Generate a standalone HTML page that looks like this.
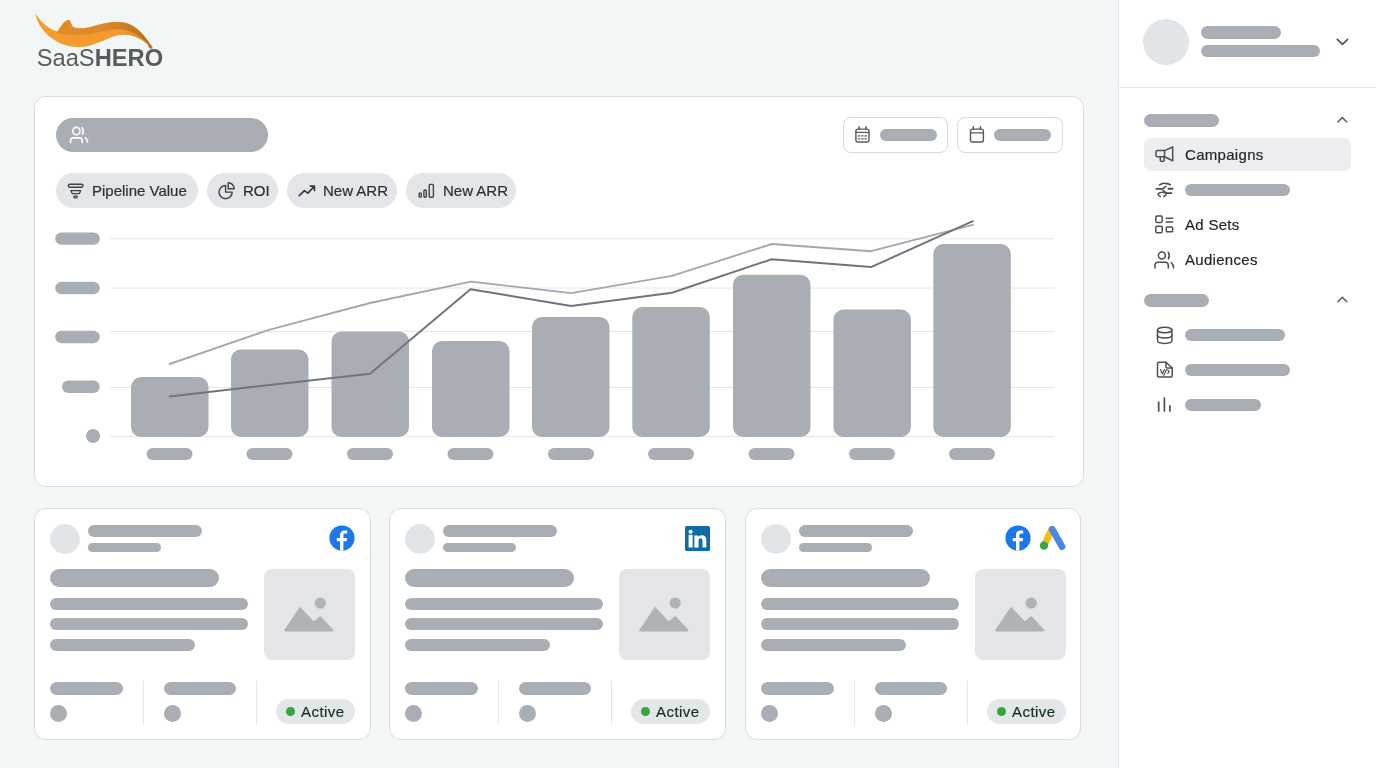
<!DOCTYPE html>
<html><head><meta charset="utf-8">
<style>
*{box-sizing:border-box;margin:0;padding:0}
html,body{width:1376px;height:768px;overflow:hidden}
body{background:#f2f6f7;font-family:"Liberation Sans",sans-serif;position:relative;color:#2b3036}
.a{position:absolute}
.sk{position:absolute;background:#a9aeb4;border-radius:999px}
.card{position:absolute;background:#fff;border:1px solid #d9dcdf;border-radius:12px}
.chip{position:absolute;top:173.3px;height:34.8px;background:#e3e5e8;border-radius:17.4px;font-size:15px;line-height:34.8px;color:#2b3036;white-space:nowrap}
.chip svg{position:absolute;top:9px}
.chip span{position:absolute;top:0.6px;will-change:transform;-webkit-text-stroke:0.2px #2b3036}
.lt{background:#e2e5e8}
#side{position:absolute;left:1118px;top:0;width:258px;height:768px;background:#fff;border-left:1px solid #e3e7eb}
.nav{position:absolute;will-change:transform;-webkit-text-stroke:0.2px #23282d;font-size:15px;letter-spacing:0.3px;color:#23282d;line-height:20px}
</style></head><body>

<!-- logo -->
<svg class="a" style="left:0;top:0;will-change:transform" width="180" height="80" viewBox="0 0 180 80">
  <defs>
   <linearGradient id="og" x1="0" y1="0" x2="1" y2="0"><stop offset="0" stop-color="#f39c2f"/><stop offset="0.7" stop-color="#f29a2c"/><stop offset="1" stop-color="#dc8420"/></linearGradient>
   <linearGradient id="dg" x1="0" y1="0" x2="1" y2="0"><stop offset="0" stop-color="#e08c27"/><stop offset="0.5" stop-color="#d98a2a"/><stop offset="1" stop-color="#b56c20"/></linearGradient>
  </defs>
  <path d="M35.1 13.1 C37 24 45 35 56 41 C66 47 78 48.5 90 45.5 C100 43 112 35.5 122 34.8 C134 34 144 40 152.5 48.8 L151 45.5 C145 36 137 26 126 23 C116 20.5 104 23 94 26 C86 28.5 78 29.5 72.7 26.8 C71.5 24.5 70.5 22 69.5 20 C65.5 19.5 61.5 24.5 57.5 31.5 C50 30 41 23 35.1 13.1 Z" fill="url(#og)"/>
  <path d="M56.5 33 C61 27 64 20.5 68.5 20 C70.5 20.5 70.8 24 72.7 26.8 C78 29.5 86 28.5 94 26 C104 23 116 20.5 126 23 C137 26 145 36 151.5 46.5 L150 46.5 C144 39 136 32 124 29.5 C112 28 100 32.5 90 34 C78 35.5 66 35 56.5 33 Z" fill="url(#dg)"/>
  <ellipse cx="150.3" cy="46.6" rx="2.6" ry="1.6" transform="rotate(45 150.3 46.6)" fill="#c0721f"/>
  <text x="36.7" y="65.6" font-family="Liberation Sans" font-size="23.7" fill="#5a5b5d">SaaS<tspan font-weight="bold">HERO</tspan></text>
</svg>

<!-- main chart card -->
<div class="card" style="left:34px;top:96px;width:1050px;height:391px"></div>
<div class="sk" style="left:55.5px;top:117.5px;width:212.5px;height:34.8px"></div>

<div class="chip" style="left:56px;width:142px"><span style="left:36px">Pipeline Value</span></div>
<div class="chip" style="left:207px;width:71px"><span style="left:36px">ROI</span></div>
<div class="chip" style="left:287px;width:110px"><span style="left:36px">New ARR</span></div>
<div class="chip" style="left:406px;width:110px"><span style="left:36.5px">New ARR</span></div>

<!-- date buttons -->
<div class="a" style="left:842.5px;top:117px;width:105.5px;height:35.5px;border:1px solid #d6d9dd;border-radius:8px;background:#fff"></div>
<div class="sk" style="left:879.5px;top:128.7px;width:57.3px;height:12.5px"></div>
<div class="a" style="left:957px;top:117px;width:105.5px;height:35.5px;border:1px solid #d6d9dd;border-radius:8px;background:#fff"></div>
<div class="sk" style="left:993.7px;top:128.7px;width:57.8px;height:12.5px"></div>

<!-- chart + icons overlay -->
<svg class="a" style="left:0;top:0" width="1100" height="480" viewBox="0 0 1100 480">
  <g fill="none" stroke="#fff" stroke-width="1.6" stroke-linecap="round">
    <circle cx="76.4" cy="131.1" r="3.7"/>
    <path d="M70.6 142.6 V140.6 Q70.6 137.9 73.3 137.9 H79.5 Q82.2 137.9 82.2 140.6 V142.6"/>
    <path d="M82 127.8 Q84.4 131 82.4 134.4"/>
    <path d="M85.4 137.6 Q87.6 139.5 87.6 142.2"/>
  </g>
  <g fill="none" stroke="#55595f" stroke-width="1.4" stroke-linecap="round">
    <rect x="855.9" y="129.1" width="13.1" height="12.9" rx="2"/>
    <path d="M855.9 132.4 H869 M859 126.7 V129.4 M866 126.7 V129.4"/>
    <path d="M858.4 135.9 H859.8 M861.7 135.9 H863.1 M865 135.9 H866.4 M858.4 138.9 H859.8 M861.7 138.9 H863.1 M865 138.9 H866.4" stroke-width="1.3"/>
    <rect x="970.5" y="129.1" width="12.9" height="12.9" rx="2"/>
    <path d="M970.5 132.9 H983.4 M973.3 126.6 V129.4 M980.4 126.6 V129.4"/>
  </g>
  <g fill="none" stroke="#3d4248" stroke-width="1.4" stroke-linecap="round" stroke-linejoin="round">
    <rect x="68.3" y="184.3" width="14.7" height="2.9" rx="1.45"/>
    <path d="M70.9 190.6 H80.7 L79.4 193.6 H72.2 Z" stroke-width="1.3"/>
    <ellipse cx="75.5" cy="196.9" rx="1.8" ry="1" stroke-width="1.3"/>
    <path d="M225.6 185.5 A6.6 6.6 0 1 0 232.2 192.1 H225.6 Z"/>
    <path d="M228.2 182.8 A6 6 0 0 1 234.2 188.8 H228.2 Z"/>
    <path d="M299.2 195.6 L304.4 190.6 L307.9 193.1 L314.4 186.3 M310.3 186.1 H314.5 V190.6" stroke-width="1.6" stroke="#33383e"/>
    <rect x="419.1" y="192.9" width="2.2" height="4.5" rx="1.1"/>
    <rect x="423.9" y="190" width="2.4" height="7.3" rx="1"/>
    <rect x="429.2" y="184.4" width="4.2" height="12.9" rx="1"/>
  </g>
  <g stroke="#e3e6e9" stroke-width="1">
    <line x1="110" y1="238.8" x2="1054" y2="238.8"/>
    <line x1="110" y1="288" x2="1054" y2="288"/>
    <line x1="110" y1="331.5" x2="1054" y2="331.5"/>
    <line x1="110" y1="387.5" x2="1054" y2="387.5"/>
    <line x1="110" y1="436.6" x2="1054" y2="436.6"/>
  </g>
  <g fill="#a9aeb4">
    <rect x="55.2" y="232.5" width="44.6" height="12.3" rx="6.15"/>
    <rect x="55.2" y="281.8" width="44.6" height="12.5" rx="6.25"/>
    <rect x="55.2" y="330.7" width="44.6" height="12.5" rx="6.25"/>
    <rect x="62" y="380.5" width="37.8" height="12.5" rx="6.25"/>
    <circle cx="93" cy="436" r="7"/>
  </g>
  <g fill="#a9aeb4">
    <rect x="131" y="377" width="77.5" height="60" rx="10"/>
    <rect x="231" y="349.5" width="77.5" height="87.5" rx="10"/>
    <rect x="331.5" y="331.5" width="77.5" height="105.5" rx="10"/>
    <rect x="432" y="341" width="77.5" height="96" rx="10"/>
    <rect x="532" y="317" width="77.5" height="120" rx="10"/>
    <rect x="632.3" y="307" width="77.5" height="130" rx="10"/>
    <rect x="733" y="274.7" width="77.5" height="162.3" rx="10"/>
    <rect x="833.4" y="309.5" width="77.5" height="127.5" rx="10"/>
    <rect x="933.3" y="244" width="77.5" height="193" rx="10"/>
  </g>
  <g fill="#a9aeb4">
    <rect x="146.5" y="448" width="46" height="12" rx="6"/>
    <rect x="246.5" y="448" width="46" height="12" rx="6"/>
    <rect x="347" y="448" width="46" height="12" rx="6"/>
    <rect x="447.5" y="448" width="46" height="12" rx="6"/>
    <rect x="548" y="448" width="46" height="12" rx="6"/>
    <rect x="648" y="448" width="46" height="12" rx="6"/>
    <rect x="748.5" y="448" width="46" height="12" rx="6"/>
    <rect x="849" y="448" width="46" height="12" rx="6"/>
    <rect x="949" y="448" width="46" height="12" rx="6"/>
  </g>
  <polyline fill="none" stroke="#a3a8ae" stroke-width="1.9" stroke-linejoin="round" stroke-linecap="round" points="169.6,364 269.8,329.6 370,303 470.8,281.6 571.2,293.1 671.9,275.9 771.8,244 871,251.2 972.8,224.8"/>
  <polyline fill="none" stroke="#70757d" stroke-width="2" stroke-linejoin="round" stroke-linecap="round" points="169.6,396.5 269.8,385 370,373.8 470.5,289.2 571.2,305.9 671.9,292.7 771.8,259.2 871,267.1 972.8,221.2"/>
</svg>

<!-- CARDS -->
<div class="card" style="left:34px;top:508px;width:337px;height:232px">
  <div class="sk lt" style="left:15px;top:15px;width:29.5px;height:29.5px"></div>
  <div class="sk" style="left:53px;top:16px;width:114px;height:12px"></div>
  <div class="sk" style="left:53px;top:34px;width:73px;height:9px"></div>
  <svg class="a" style="left:294px;top:16px" width="26" height="26" viewBox="0 0 26 26"><circle cx="13" cy="13" r="12.6" fill="#1a77ec"/><path d="M14.4 25.6 V16.2 H17.6 L18.1 12.9 H14.4 V10.5 C14.4 9.4 14.8 8.6 16.3 8.6 H18.2 V5.6 C17.8 5.5 16.8 5.4 15.6 5.4 C12.9 5.4 11 7.1 11 10.1 V12.9 H7.8 V16.2 H11 V25.6 Z" fill="#fff"/></svg>
  <div class="sk" style="left:15px;top:60.4px;width:168.7px;height:18px"></div>
  <div class="sk" style="left:15px;top:88.7px;width:198px;height:12.3px"></div>
  <div class="sk" style="left:15px;top:109.2px;width:198px;height:12.3px"></div>
  <div class="sk" style="left:15px;top:130px;width:145px;height:12.3px"></div>
  <div class="a" style="left:228.8px;top:60.4px;width:90.8px;height:90.8px;background:#e3e5e8;border-radius:8px"></div>
  <svg class="a" style="left:248px;top:87px" width="54" height="40" viewBox="0 0 54 40"><circle cx="37.2" cy="7" r="5.6" fill="#afb2b7"/><path d="M2.3 34.4 L17.1 12.2 L30.6 26.8 L37.2 21.2 L49.4 34.4 Z" fill="#afb2b7" stroke="#afb2b7" stroke-width="2" stroke-linejoin="round"/></svg>
  <div class="sk" style="left:15px;top:173.4px;width:72.6px;height:12.3px"></div>
  <div class="sk" style="left:14.9px;top:195.8px;width:17.6px;height:17.6px"></div>
  <div class="a" style="left:108px;top:172px;width:1px;height:44px;background:#e6e8ea"></div>
  <div class="sk" style="left:128.5px;top:173.4px;width:72.3px;height:12.3px"></div>
  <div class="sk" style="left:128.5px;top:195.8px;width:17.6px;height:17.6px"></div>
  <div class="a" style="left:220.5px;top:172px;width:1px;height:44px;background:#e6e8ea"></div>
  <div class="a" style="left:241.2px;top:190.1px;width:78.5px;height:24.7px;background:#e4e7e9;border-radius:12.4px"></div>
  <div class="a" style="left:251.1px;top:197.9px;width:9px;height:9px;background:#36a53e;border-radius:50%"></div>
  <div class="a" style="left:266px;top:192.7px;font-size:15px;line-height:20px;letter-spacing:0.45px;color:#14301c;will-change:transform;-webkit-text-stroke:0.2px #14301c">Active</div>
</div>
<div class="card" style="left:389px;top:508px;width:337px;height:232px">
  <div class="sk lt" style="left:15px;top:15px;width:29.5px;height:29.5px"></div>
  <div class="sk" style="left:53px;top:16px;width:114px;height:12px"></div>
  <div class="sk" style="left:53px;top:34px;width:73px;height:9px"></div>
  <svg class="a" style="left:295.4px;top:17.1px" width="25" height="25" viewBox="0 0 24.5 24.5"><rect width="24.5" height="24.5" rx="1.8" fill="#0d6ba8"/><rect x="3.5" y="3.6" width="4" height="3.9" rx="1.8" fill="#fff"/><rect x="3.5" y="8.6" width="4" height="12.4" fill="#fff"/><path d="M9.2 9.2 H13 V10.6 C13.8 9.6 15 9 16.5 9 C19.5 9 20.9 10.8 20.9 14 V21 H17.1 V14.4 C17.1 13 16.4 12.1 15.2 12.1 C14 12.1 13.3 13 13.3 14.4 V21 H9.2 Z" fill="#fff"/></svg>
  <div class="sk" style="left:15px;top:60.4px;width:168.7px;height:18px"></div>
  <div class="sk" style="left:15px;top:88.7px;width:198px;height:12.3px"></div>
  <div class="sk" style="left:15px;top:109.2px;width:198px;height:12.3px"></div>
  <div class="sk" style="left:15px;top:130px;width:145px;height:12.3px"></div>
  <div class="a" style="left:228.8px;top:60.4px;width:90.8px;height:90.8px;background:#e3e5e8;border-radius:8px"></div>
  <svg class="a" style="left:248px;top:87px" width="54" height="40" viewBox="0 0 54 40"><circle cx="37.2" cy="7" r="5.6" fill="#afb2b7"/><path d="M2.3 34.4 L17.1 12.2 L30.6 26.8 L37.2 21.2 L49.4 34.4 Z" fill="#afb2b7" stroke="#afb2b7" stroke-width="2" stroke-linejoin="round"/></svg>
  <div class="sk" style="left:15px;top:173.4px;width:72.6px;height:12.3px"></div>
  <div class="sk" style="left:14.9px;top:195.8px;width:17.6px;height:17.6px"></div>
  <div class="a" style="left:108px;top:172px;width:1px;height:44px;background:#e6e8ea"></div>
  <div class="sk" style="left:128.5px;top:173.4px;width:72.3px;height:12.3px"></div>
  <div class="sk" style="left:128.5px;top:195.8px;width:17.6px;height:17.6px"></div>
  <div class="a" style="left:220.5px;top:172px;width:1px;height:44px;background:#e6e8ea"></div>
  <div class="a" style="left:241.2px;top:190.1px;width:78.5px;height:24.7px;background:#e4e7e9;border-radius:12.4px"></div>
  <div class="a" style="left:251.1px;top:197.9px;width:9px;height:9px;background:#36a53e;border-radius:50%"></div>
  <div class="a" style="left:266px;top:192.7px;font-size:15px;line-height:20px;letter-spacing:0.45px;color:#14301c;will-change:transform;-webkit-text-stroke:0.2px #14301c">Active</div>
</div>
<div class="card" style="left:745px;top:508px;width:336px;height:232px">
  <div class="sk lt" style="left:15px;top:15px;width:29.5px;height:29.5px"></div>
  <div class="sk" style="left:53px;top:16px;width:114px;height:12px"></div>
  <div class="sk" style="left:53px;top:34px;width:73px;height:9px"></div>
  <svg class="a" style="left:258.5px;top:16px" width="26" height="26" viewBox="0 0 26 26"><circle cx="13" cy="13" r="12.6" fill="#1a77ec"/><path d="M14.4 25.6 V16.2 H17.6 L18.1 12.9 H14.4 V10.5 C14.4 9.4 14.8 8.6 16.3 8.6 H18.2 V5.6 C17.8 5.5 16.8 5.4 15.6 5.4 C12.9 5.4 11 7.1 11 10.1 V12.9 H7.8 V16.2 H11 V25.6 Z" fill="#fff"/></svg><svg class="a" style="left:294px;top:15px" width="28" height="28" viewBox="0 0 28 28"><path d="M11.5 6 L4 21.6" stroke="#f7bb0e" stroke-width="6.8" stroke-linecap="round"/><path d="M12.3 5.3 L22 22.6" stroke="#4a87e2" stroke-width="6.8" stroke-linecap="round"/><circle cx="4" cy="21.6" r="4.2" fill="#37a54a"/></svg>
  <div class="sk" style="left:15px;top:60.4px;width:168.7px;height:18px"></div>
  <div class="sk" style="left:15px;top:88.7px;width:198px;height:12.3px"></div>
  <div class="sk" style="left:15px;top:109.2px;width:198px;height:12.3px"></div>
  <div class="sk" style="left:15px;top:130px;width:145px;height:12.3px"></div>
  <div class="a" style="left:228.8px;top:60.4px;width:90.8px;height:90.8px;background:#e3e5e8;border-radius:8px"></div>
  <svg class="a" style="left:248px;top:87px" width="54" height="40" viewBox="0 0 54 40"><circle cx="37.2" cy="7" r="5.6" fill="#afb2b7"/><path d="M2.3 34.4 L17.1 12.2 L30.6 26.8 L37.2 21.2 L49.4 34.4 Z" fill="#afb2b7" stroke="#afb2b7" stroke-width="2" stroke-linejoin="round"/></svg>
  <div class="sk" style="left:15px;top:173.4px;width:72.6px;height:12.3px"></div>
  <div class="sk" style="left:14.9px;top:195.8px;width:17.6px;height:17.6px"></div>
  <div class="a" style="left:108px;top:172px;width:1px;height:44px;background:#e6e8ea"></div>
  <div class="sk" style="left:128.5px;top:173.4px;width:72.3px;height:12.3px"></div>
  <div class="sk" style="left:128.5px;top:195.8px;width:17.6px;height:17.6px"></div>
  <div class="a" style="left:220.5px;top:172px;width:1px;height:44px;background:#e6e8ea"></div>
  <div class="a" style="left:241.2px;top:190.1px;width:78.5px;height:24.7px;background:#e4e7e9;border-radius:12.4px"></div>
  <div class="a" style="left:251.1px;top:197.9px;width:9px;height:9px;background:#36a53e;border-radius:50%"></div>
  <div class="a" style="left:266px;top:192.7px;font-size:15px;line-height:20px;letter-spacing:0.45px;color:#14301c;will-change:transform;-webkit-text-stroke:0.2px #14301c">Active</div>
</div>
<!-- /CARDS -->

<!-- sidebar -->
<div id="side">
  <div class="sk lt" style="left:24px;top:19px;width:46px;height:46px"></div>
  <div class="sk" style="left:82px;top:26px;width:80px;height:12.5px"></div>
  <div class="sk" style="left:82px;top:44.5px;width:119px;height:12.5px"></div>
  <div class="a" style="left:0;top:87px;width:258px;height:1px;background:#e6e9ec"></div>
  <div class="sk" style="left:25px;top:114px;width:75px;height:12.5px"></div>
  <div class="a" style="left:25px;top:138px;width:207px;height:33px;background:#eceef1;border-radius:7px"></div>
  <div class="nav" style="left:66px;top:145px">Campaigns</div>
  <div class="sk" style="left:66px;top:183.5px;width:105px;height:12.5px"></div>
  <div class="nav" style="left:66px;top:215px">Ad Sets</div>
  <div class="nav" style="left:66px;top:250px">Audiences</div>
  <div class="sk" style="left:25px;top:294px;width:65px;height:12.5px"></div>
  <div class="sk" style="left:66px;top:329px;width:100px;height:12px"></div>
  <div class="sk" style="left:66px;top:364px;width:105px;height:12px"></div>
  <div class="sk" style="left:66px;top:399px;width:76px;height:12px"></div>
</div>
<svg class="a" style="left:1118px;top:0" width="258" height="430" viewBox="1118 0 258 430" fill="none" stroke="#4b5056" stroke-width="1.5" stroke-linecap="round" stroke-linejoin="round">
  <path d="M1337.3 39.4 L1342.5 44.4 L1347.6 39.4" stroke-width="1.8" stroke="#55595e"/>
  <path d="M1337.8 122 L1342.3 117.6 L1346.8 122" stroke-width="1.5" stroke="#5b5f65"/>
  <path d="M1337.8 301.8 L1342.3 297.4 L1346.8 301.8" stroke-width="1.5" stroke="#5b5f65"/>
  <!-- megaphone -->
  <path d="M1164.5 150.6 H1157.4 Q1156 150.6 1156 152 V155.4 Q1156 156.8 1157.4 156.8 H1164.5 Z"/>
  <path d="M1164.5 150.6 L1172.7 147 V160.7 L1164.5 156.8"/>
  <path d="M1160.3 156.8 V160 Q1160.3 161.5 1162.2 161.5 Q1164.1 161.5 1164.1 160 V156.8"/>
  <!-- sliders (adjustments) -->
  <g stroke-width="1.6">
  <path d="M1159.7 184.9 Q1162.5 182.6 1165.5 183.4 Q1168.3 183.9 1170.4 184.8"/>
  <path d="M1156.3 188.9 H1162.8 L1165.8 186.4"/>
  <path d="M1168.4 188.8 H1172.6" stroke-width="1.9"/>
  <path d="M1163.2 190.6 Q1165 192.6 1167.2 193.1 H1171.6"/>
  <path d="M1160.3 196.4 Q1157.4 195.2 1158.4 193.6 Q1160 192 1164.2 192.4 Q1166.6 193 1166 194.6 Q1165.2 196 1163.9 196.4"/>
  </g>
  <!-- ad sets -->
  <rect x="1155.8" y="216" width="6.4" height="6.4" rx="1.3"/>
  <rect x="1155.8" y="226.3" width="6.4" height="6.4" rx="1.3"/>
  <path d="M1166.3 218.2 H1172.6 M1166.3 221.9 H1172.6"/>
  <rect x="1166.3" y="227" width="6.3" height="4.8" rx="0.8"/>
  <!-- audiences -->
  <circle cx="1161.9" cy="255.6" r="3.5"/>
  <path d="M1155 268 V265.5 Q1155 262.3 1158.3 262.3 H1165.3 Q1168.3 262.3 1168.3 265.5 V268"/>
  <path d="M1168.2 252.2 Q1170.4 255.5 1168.4 258.9"/>
  <path d="M1171.2 262.6 Q1173.6 264.5 1173.6 268"/>
  <!-- database -->
  <ellipse cx="1164.7" cy="330" rx="7.2" ry="2.8"/>
  <path d="M1157.5 330 V340.6 Q1157.5 343.4 1164.7 343.4 Q1171.9 343.4 1171.9 340.6 V330"/>
  <path d="M1157.5 335.3 Q1157.5 338 1164.7 338 Q1171.9 338 1171.9 335.3"/>
  <!-- file code -->
  <path d="M1157.5 363.5 Q1157.5 362.2 1158.8 362.2 H1166 L1172.2 368 V375.8 Q1172.2 377 1171 377 H1158.8 Q1157.5 377 1157.5 375.8 Z"/>
  <path d="M1166 362.2 V366.7 Q1166 368 1167.3 368 H1172.2"/>
  <path d="M1160.5 369.5 L1162.3 373.8 L1164.3 369.5 M1166.5 369.5 L1163.8 375.3 M1167.8 370 L1169.2 371.6 L1167.8 373.2" stroke-width="1.2"/>
  <!-- bar chart -->
  <path d="M1158.7 402 V411 M1164.4 398 V411 M1169.9 405.8 V411" stroke-width="1.7"/>
</svg>

</body></html>
